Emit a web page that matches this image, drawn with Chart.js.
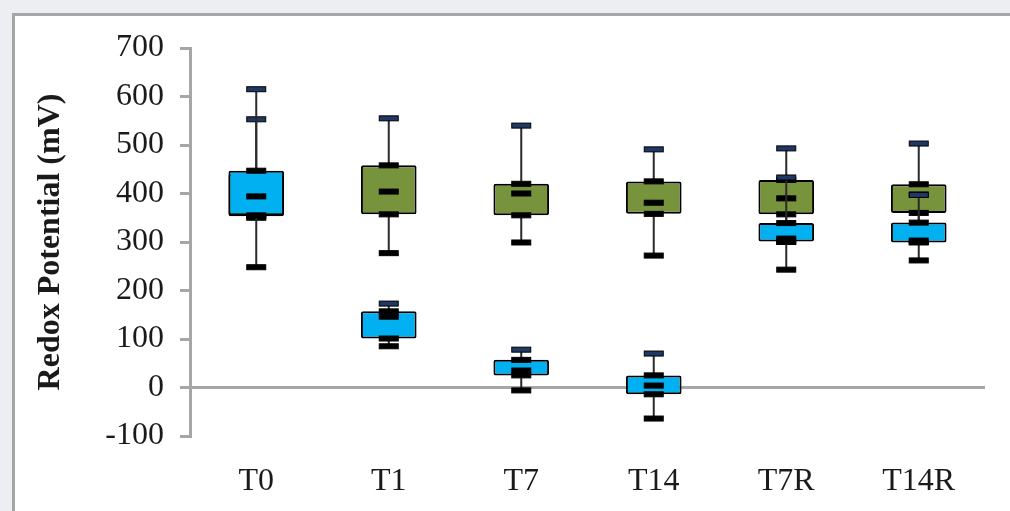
<!DOCTYPE html>
<html>
<head>
<meta charset="utf-8">
<script src="https://cdn.jsdelivr.net/npm/chart.js@4.4.1/dist/chart.umd.min.js"></script>
<style>
  html, body { margin: 0; padding: 0; background: #eceef1; overflow: hidden; }
  #panel { position: absolute; left: 12px; top: 13px; width: 1010px; height: 510px;
           background: #fff; border-left: 3px solid #a6a6a6; border-top: 3px solid #a6a6a6; }
  #wrap { position: absolute; left: 0; top: 0; width: 1010px; height: 511px; }
</style>
</head>
<body>
<div id="panel"></div>
<div id="wrap"><canvas id="chart"></canvas></div>
<script>
// categories and box stats
var categories = ["T0", "T1", "T7", "T14", "T7R", "T14R"];

var blueMin = [248, 85, -6, -64, 243, 262];
var blueQ1  = [355, 101, 25, -14, 301, 299];
var blueMed = [394, 146, 35, 4, 307, 303];
var blueQ3  = [447, 157, 57, 25, 339, 340];
var blueMax = [615, 173, 78, 70, 433, 397];

var greenMin = [350, 277, 299, 272, 300, 300];
var greenQ1  = [353, 357, 355, 358, 357, 360];
var greenMed = [395, 404, 400, 381, 390, 398];
var greenQ3  = [440, 458, 420, 425, 428, 419];
var greenMax = [553, 555, 540, 491, 493, 503];

var yTicks = [-100, 0, 100, 200, 300, 400, 500, 600, 700];

function boxes(q1, q3) {
  return categories.map(function(c, i) { return [q1[i], q3[i]]; });
}

// whiskers, caps and medians on top of each box dataset
var whiskerPlugin = {
  id: "whiskers",
  afterDatasetDraw: function(chart, args) {
    var ds = chart.data.datasets[args.index];
    if (!ds.stats) return;
    var y = chart.scales.y;
    var ctx = chart.ctx;
    var s = ds.stats;
    ctx.save();
    args.meta.data.forEach(function(bar, i) {
      var x = bar.x;
      var pMin = y.getPixelForValue(s.min[i]);
      var pQ1 = y.getPixelForValue(s.q1[i]);
      var pMed = y.getPixelForValue(s.med[i]);
      var pQ3 = y.getPixelForValue(s.q3[i]);
      var pMax = y.getPixelForValue(s.max[i]);

      ctx.strokeStyle = "#2b2b2b";
      ctx.lineWidth = 2;
      ctx.beginPath();
      ctx.moveTo(x, pQ3); ctx.lineTo(x, pMax);
      ctx.moveTo(x, pQ1); ctx.lineTo(x, pMin);
      ctx.stroke();

      function cap(py, fill) {
        ctx.fillStyle = fill;
        ctx.fillRect(x - 9.5, py - 2.5, 19, 5);
        ctx.strokeStyle = "#000";
        ctx.lineWidth = 1;
        ctx.strokeRect(x - 9.5, py - 2.5, 19, 5);
      }
      cap(pMax, "#1f3864");
      cap(pMin, "#000");
      cap(pQ3, "#000");
      cap(pQ1, "#000");
      cap(pMed, "#000");
    });
    ctx.restore();
  }
};

var serif = "'Liberation Serif', 'Times New Roman', serif";

new Chart(document.getElementById("chart"), {
  type: "bar",
  data: {
    labels: categories,
    datasets: [
      {
        label: "Blue",
        data: boxes(blueQ1, blueQ3),
        stats: { min: blueMin, q1: blueQ1, med: blueMed, q3: blueQ3, max: blueMax },
        backgroundColor: "#00b0f0",
        borderColor: "#000",
        borderWidth: 2,
        borderSkipped: false,
        borderRadius: 2,
        grouped: false,
        barPercentage: 0.42,
        categoryPercentage: 1
      },
      {
        label: "Green",
        data: boxes(greenQ1, greenQ3),
        stats: { min: greenMin, q1: greenQ1, med: greenMed, q3: greenQ3, max: greenMax },
        backgroundColor: "#77933c",
        borderColor: "#000",
        borderWidth: 2,
        borderSkipped: false,
        borderRadius: 2,
        grouped: false,
        barPercentage: 0.42,
        categoryPercentage: 1
      }
    ]
  },
  options: {
    responsive: true,
    maintainAspectRatio: false,
    animation: false,
    layout: { padding: { left: 28, top: 48, right: 25, bottom: 13 } },
    plugins: { legend: { display: false }, tooltip: { enabled: false } },
    scales: {
      x: {
        afterFit: function(scale) { scale.height = 62; },
        grid: { display: false, drawTicks: false },
        border: { display: false },
        ticks: { color: "#1a1a1a", padding: 26, maxRotation: 0, font: { family: serif, size: 32 } }
      },
      y: {
        min: -100,
        max: 700,
        afterFit: function(scale) { scale.width = 162; },
        afterBuildTicks: function(scale) {
          scale.ticks = yTicks.map(function(v) { return { value: v }; });
        },
        grid: {
          color: function(c) { return c.tick && c.tick.value === 0 ? "#a6a6a6" : "rgba(0,0,0,0)"; },
          lineWidth: 3,
          tickLength: 10,
          tickColor: "#a6a6a6",
          tickWidth: 3
        },
        border: { display: true, color: "#a6a6a6", width: 3 },
        ticks: { color: "#1a1a1a", padding: 16, font: { family: serif, size: 32 } },
        title: {
          display: true,
          text: "Redox Potential (mV)",
          color: "#1a1a1a",
          font: { family: serif, size: 32, weight: "bold" }
        }
      }
    }
  },
  plugins: [whiskerPlugin]
});
</script>
</body>
</html>
